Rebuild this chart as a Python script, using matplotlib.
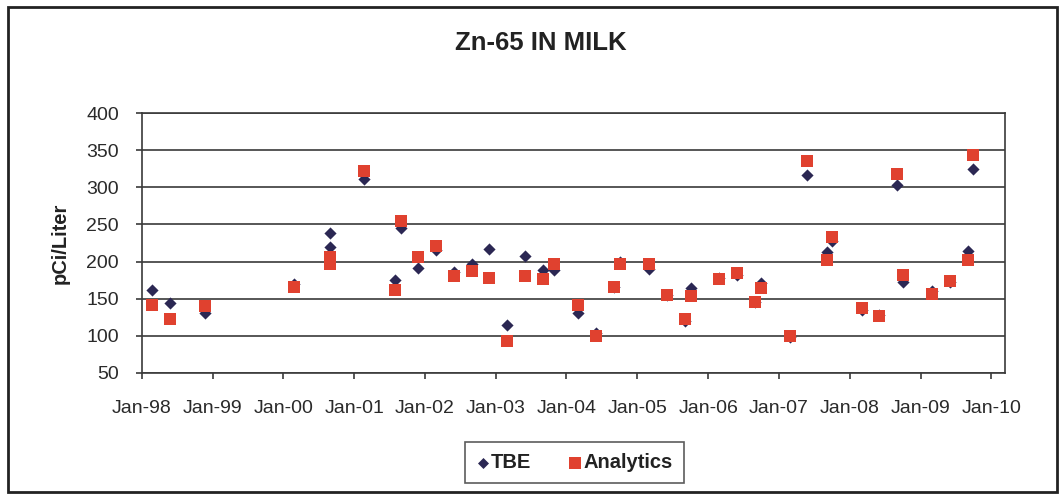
import numpy as np
import pandas as pd
import matplotlib
matplotlib.use('Agg')
import matplotlib.pyplot as plt
import matplotlib.dates as mdates
from matplotlib.patches import Rectangle

# sample dates and results in pCi/Liter
sample_dates = ['1998-02-24', '1998-05-25', '1998-11-24', '2000-02-26', '2000-08-27',
                '2000-08-30', '2001-02-22', '2001-07-28', '2001-08-28', '2001-11-26',
                '2002-02-26', '2002-05-30', '2002-08-31', '2002-11-28', '2003-02-26',
                '2003-05-30', '2003-08-31', '2003-10-30', '2004-03-02', '2004-06-01',
                '2004-09-02', '2004-10-03', '2005-03-04', '2005-06-01', '2005-09-03',
                '2005-10-03', '2006-02-27', '2006-05-31', '2006-08-30', '2006-09-28',
                '2007-02-27', '2007-05-27', '2007-09-04', '2007-10-03', '2008-03-03',
                '2008-06-02', '2008-09-03', '2008-10-01', '2009-03-03', '2009-06-02',
                '2009-09-01', '2009-09-26']
tbe = [161, 144, 131, 170, 238, 220, 311, 175, 245, 191,
       215, 186, 197, 217, 115, 208, 188, 188, 131, 103,
       166, 199, 190, 155, 120, 164, 178, 182, 146, 171,
       98, 317, 213, 228, 135, 128, 303, 173, 160, 172,
       214, 325]
analytics = [142, 122, 140, 165, 206, 196, 322, 161, 254, 206,
             221, 180, 187, 178, 93, 181, 177, 196, 142, 99,
             166, 196, 197, 155, 123, 154, 176, 185, 145, 164,
             100, 335, 202, 233, 137, 126, 318, 182, 156, 174,
             202, 344]
year_ticks = [str(y) + '-01-01' for y in range(1998, 2011)]
y_ticks = [50, 100, 150, 200, 250, 300, 350, 400]

dates = pd.to_datetime(sample_dates)

plt.rcParams['font.family'] = ['Liberation Sans', 'DejaVu Sans']
fig = plt.figure(figsize=(10.61, 4.96), dpi=100)
ax = fig.add_axes([0.1336, 0.2486, 0.9472 - 0.1336, 0.7716 - 0.2486])

grid_col = '#3a3a3a'
ax.scatter(dates, tbe, marker='D', s=6.2**2, color='#2b2753', zorder=3, label='TBE',
           linewidths=0)
ax.scatter(dates, analytics, marker='s', s=9.2**2, color='#e0412f', zorder=4,
           label='Analytics', linewidths=0)

ax.set_ylim(50, 400)
ax.set_yticks(y_ticks)
ax.set_xlim(pd.Timestamp('1998-01-01'), pd.Timestamp('2010-03-12'))
ax.set_xticks(pd.to_datetime(year_ticks))
ax.xaxis.set_major_formatter(mdates.DateFormatter('%b-%y'))
ax.yaxis.grid(True, color=grid_col, lw=1.2)
ax.set_axisbelow(True)
for s in ax.spines.values():
    s.set_color(grid_col)
    s.set_linewidth(1.2)
ax.tick_params(axis='both', colors=grid_col, labelcolor='#2a2a2a', labelsize=14,
               length=4.5, width=1.2)
ax.tick_params(axis='y', pad=12)
ax.tick_params(axis='x', pad=15)
ax.set_ylabel('pCi/Liter', fontsize=14.5, fontweight='bold', color='#222222', labelpad=12)

fig.text(0.5095, 0.913, 'Zn-65 IN MILK', ha='center', va='center', fontsize=18.5,
         fontweight='bold', color='#222222')

leg = fig.legend(loc='center', bbox_to_anchor=(0.5415, 0.0667), ncol=2, frameon=True,
                 fancybox=False, edgecolor='#333333', handlelength=0.6, handletextpad=0.1,
                 columnspacing=1.9, borderpad=0.55, borderaxespad=0, scatterpoints=1,
                 prop={'size': 14.5, 'weight': 'bold'})
leg.get_frame().set_linewidth(1.2)
leg.legend_handles[0].set_sizes([5.6**2])
leg.legend_handles[1].set_sizes([8.5**2])
for t in leg.get_texts():
    t.set_color('#222222')

# outer chart frame
fig.patches.append(Rectangle((8 / 1061, 1 - 492 / 496), (1057 - 8) / 1061, (492 - 7) / 496,
                             transform=fig.transFigure, fill=False, edgecolor='#222222',
                             lw=2))

fig.savefig('out.png', dpi=100)
